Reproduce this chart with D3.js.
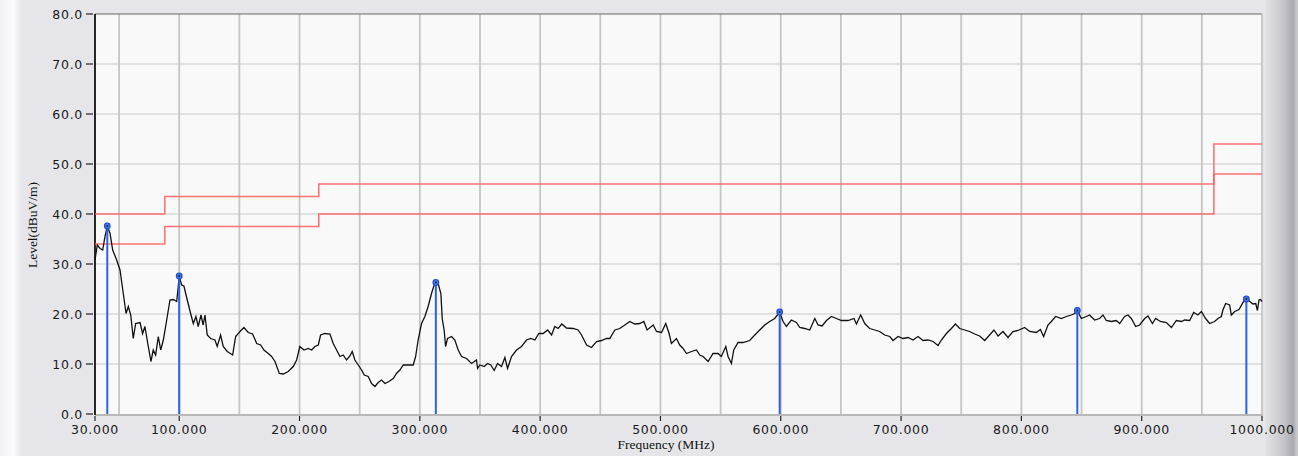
<!DOCTYPE html>
<html lang="en">
<head>
<meta charset="UTF-8">
<title>Level vs Frequency</title>
<script src="https://cdn.jsdelivr.net/npm/d3@7"></script>
<style>
    html, body { margin: 0; padding: 0; background: #e6e6ea; }
    svg { display: block; }
    .tick-label { font-family: "DejaVu Sans", sans-serif; font-size: 12.5px; fill: #1a1a1a; letter-spacing: 0.7px; }
    .axis-title { font-family: "Liberation Serif", serif; font-size: 13.5px; fill: #111; }
</style>
</head>
<body>
<div id="chart"></div>
<script>
    // measured trace: [frequency MHz, level dBuV/m]
    const trace = [
        [30, 30.8], [31.9, 33.8], [34.2, 33.1], [36.4, 32.8], [38.3, 35.5], [40.2, 37.6], [42.5, 36.1],
        [44.7, 32.8], [48, 30.8], [50.8, 28.8], [53.5, 24.1], [55.8, 20.1], [57.7, 21.5], [59.7, 19.8],
        [61.8, 15.1], [63.8, 18.1], [67.4, 18.3], [69.6, 16.1], [71.5, 17.5], [74.3, 13.5], [76.5, 10.5],
        [78.4, 12.8], [80.4, 11.8], [82.6, 15.5], [84.6, 12.8], [86.8, 14.8], [89.6, 18.8], [92.3, 22.8],
        [95.1, 22.9], [97.9, 22.5], [99.2, 25.5], [100, 27.6], [102, 25.8], [103.9, 25.6], [106.7, 22.8],
        [109.5, 20.1], [111.7, 18.1], [113.9, 19.5], [115.8, 17.5], [118.1, 19.8], [119.9, 17.8], [121.4, 19.8],
        [123.3, 15.8], [126.1, 15.1], [129.7, 14.8], [131.6, 13.5], [134.4, 15.8], [136.6, 13.5], [139.9, 12.5],
        [144.4, 11.8], [146.9, 15.5], [150.5, 16.5], [153.8, 17.3], [157.4, 16.3], [161, 16.0], [164.4, 14.1],
        [167.7, 13.8], [170.4, 12.8], [174, 12.1], [176.8, 11.5], [179.6, 10.5], [183.2, 8.1], [186.5, 8.0],
        [190.6, 8.5], [194.8, 9.5], [197.6, 10.8], [200.3, 13.5], [203.7, 12.8], [207.2, 13.1], [210.1, 12.8],
        [212.8, 13.5], [215.6, 13.8], [217.5, 15.8], [221.1, 16.1], [225.3, 16.0], [228, 14.1], [230.8, 12.8],
        [233.6, 11.5], [236.3, 11.8], [239.1, 10.8], [241.9, 11.6], [243.8, 12.5], [246, 10.8], [248.8, 9.8],
        [251.6, 8.8], [253.8, 7.8], [257.1, 7.5], [259.9, 6.1], [262.7, 5.5], [265.4, 6.3], [268.2, 6.8],
        [271, 6.1], [274.3, 6.5], [277.9, 7.1], [280.6, 8.1], [283.4, 8.8], [286.2, 9.8], [290.3, 9.8],
        [294.5, 9.8], [296.5, 11.5], [298.6, 14.8], [301.4, 18.1], [304.2, 19.5], [306.9, 21.5], [309.7, 24.1],
        [311.9, 25.8], [313.3, 26.3], [315.2, 26.1], [317.5, 24.1], [318.6, 19.1], [320.2, 16.8], [321.4, 13.5],
        [323, 15.1], [326.4, 15.5], [329.1, 14.8], [331.9, 12.8], [334.7, 11.5], [338.8, 11.1], [343, 10.1],
        [347.1, 10.8], [348, 9.1], [349.9, 9.8], [353.5, 9.5], [356.3, 10.1], [359, 9.8], [361.8, 8.7],
        [364.6, 10.1], [367.9, 9.5], [370.7, 11.3], [372.9, 9.1], [376.2, 11.5], [380.4, 12.8], [384.5, 13.5],
        [388.7, 14.8], [392.3, 15.1], [395.6, 14.8], [398.9, 16.1], [402.5, 16.1], [406.2, 16.8], [409.5, 15.8],
        [412.2, 17.5], [415, 17.1], [418, 18.0], [421.9, 17.2], [427.4, 17.1], [431.6, 16.8], [434.4, 15.8],
        [438.6, 13.8], [442.7, 13.3], [446.9, 14.5], [451, 14.7], [455.2, 15.1], [457.9, 15.1], [462.1, 16.8],
        [466.2, 17.1], [470.4, 17.8], [474.5, 18.5], [478.7, 18.0], [482.8, 18.1], [486.2, 18.5], [488.9, 16.8],
        [494, 17.8], [496.7, 16.5], [500.9, 16.3], [504.4, 18.1], [507.2, 16.1], [509.1, 14.1], [513.3, 15.1],
        [516, 13.8], [518.8, 13.1], [521.6, 12.1], [525.8, 12.5], [529.9, 12.8], [532.7, 11.8], [535.4, 11.5],
        [539.6, 10.5], [543.7, 12.1], [547.9, 12.1], [550.6, 11.5], [554.3, 13.5], [556.2, 11.5], [559, 10.1],
        [560.9, 12.8], [564.5, 14.3], [568.6, 14.3], [574.2, 14.7], [578.4, 15.8], [582.5, 16.8], [586.7, 17.8],
        [590.8, 18.5], [595, 19.1], [599.1, 20.4], [601.9, 18.5], [604.7, 17.5], [608.8, 18.8], [613, 18.3],
        [615.8, 17.3], [619.9, 17.1], [624.1, 16.8], [628.3, 19.1], [631, 17.8], [634.3, 17.6], [638, 18.7],
        [642.1, 19.5], [646.3, 19.1], [650.4, 18.7], [655.9, 18.7], [660.9, 19.1], [662.9, 18.0], [666.4, 19.8],
        [669.8, 18.1], [673.9, 17.1], [678.1, 16.8], [682.2, 16.5], [686.4, 15.8], [690.6, 15.5], [693.3, 14.7],
        [697.5, 15.5], [701.6, 15.1], [705.8, 15.3], [709.9, 14.8], [714.1, 15.5], [718.3, 14.7], [722.4, 14.8],
        [726.6, 14.5], [730.7, 13.7], [733.5, 14.8], [737.7, 16.1], [741.8, 17.1], [745.2, 18.0], [748.7, 17.1],
        [752.9, 16.8], [757, 16.5], [761.2, 16.0], [765.3, 15.6], [769.5, 14.7], [773.6, 15.8], [777.2, 16.8],
        [780.6, 15.6], [784.7, 16.5], [788.9, 15.3], [793, 16.5], [797.2, 16.7], [802.7, 17.3], [806.9, 16.5],
        [812.4, 16.3], [815.8, 16.9], [818.5, 15.5], [822.1, 17.8], [824.9, 18.5], [828.5, 19.5], [833.2, 19.1],
        [837.4, 19.5], [841.5, 19.8], [844.3, 20.1], [846.5, 20.7], [849.8, 19.1], [854, 19.5], [856.7, 19.8],
        [860.9, 18.8], [865, 19.1], [867.8, 19.8], [870.6, 18.7], [874.7, 18.5], [878.9, 18.7], [881.7, 18.1],
        [885.8, 19.5], [888.6, 19.8], [891.4, 19.1], [895, 17.5], [898.3, 17.8], [902.5, 19.1], [905.2, 19.6],
        [908.9, 18.1], [911.6, 19.1], [915.5, 18.5], [920.5, 18.3], [924.7, 17.3], [928.8, 18.7], [933, 18.5],
        [935.7, 18.8], [939.9, 18.7], [943.2, 20.3], [946.7, 19.8], [949.6, 20.5], [953.1, 19.1], [956.5, 18.1],
        [960.6, 18.5], [963.4, 19.1], [966.2, 19.5], [967.5, 20.8], [969.8, 22.1], [973.1, 21.8], [974.5, 19.8],
        [977.3, 20.5], [980.9, 20.9], [984.2, 22.3], [987, 23.0], [989.8, 22.5], [992.5, 22.0], [994.8, 22.1],
        [996.2, 20.7], [997.5, 22.8], [998.7, 22.9], [1000, 22.5]
    ];

    // limit lines (step functions): breakpoints in MHz and levels
    const limitFreqs = [30, 88, 216, 960, 1000];
    const limitUpper = [40, 43.5, 46, 54];
    const limitLower = [34, 37.5, 40, 48];

    // marked peaks
    const peakFreqs = [40.2, 100, 313.3, 599.1, 846.5, 987];
    const peakLevels = [37.6, 27.6, 26.3, 20.4, 20.7, 23.0];

    const xTicks = [30, 100, 200, 300, 400, 500, 600, 700, 800, 900, 1000];
    const xGrid = [50, 100, 150, 200, 250, 300, 350, 400, 450, 500, 550, 600, 650, 700, 750, 800, 850, 900, 950];
    const yTicks = [0, 10, 20, 30, 40, 50, 60, 70, 80];

    const W = 1298, H = 456;
    const plotL = 95, plotR = 1262, plotT = 14, plotB = 414;

    const x = d3.scaleLinear().domain([30, 1000]).range([plotL, plotR]);
    const y = d3.scaleLinear().domain([0, 80]).range([plotB, plotT]);

    const svg = d3.select("#chart").append("svg")
        .attr("width", W)
        .attr("height", H);

    const defs = svg.append("defs");
    const gl = defs.append("linearGradient").attr("id", "leftFade");
    gl.append("stop").attr("offset", "0%").attr("stop-color", "#f2f2f6");
    gl.append("stop").attr("offset", "60%").attr("stop-color", "#fbfbfd");
    gl.append("stop").attr("offset", "100%").attr("stop-color", "#e6e6ea");
    const gr = defs.append("linearGradient").attr("id", "rightBar");
    gr.append("stop").attr("offset", "0%").attr("stop-color", "#e2e2e6");
    gr.append("stop").attr("offset", "55%").attr("stop-color", "#c4c4ca");
    gr.append("stop").attr("offset", "85%").attr("stop-color", "#a9a9b0");
    gr.append("stop").attr("offset", "100%").attr("stop-color", "#d0d0d4");

    // background pieces
    svg.append("rect").attr("width", W).attr("height", H).attr("fill", "#e6e6ea");
    svg.append("rect").attr("x", 0).attr("y", 0).attr("width", 22).attr("height", H).attr("fill", "url(#leftFade)");
    svg.append("rect").attr("x", 1266).attr("y", 0).attr("width", W - 1266).attr("height", H).attr("fill", "url(#rightBar)");

    // plot area
    svg.append("rect")
        .attr("x", plotL).attr("y", plotT)
        .attr("width", plotR - plotL).attr("height", plotB - plotT)
        .attr("fill", "#f9f9f9");

    // grid
    svg.append("g").selectAll("line")
        .data(yTicks.filter(d => d > 0 && d < 80))
        .enter().append("line")
        .attr("x1", plotL).attr("x2", plotR)
        .attr("y1", d => y(d)).attr("y2", d => y(d))
        .attr("stroke", "#d8d8d8").attr("stroke-width", 1.6);

    svg.append("g").selectAll("line")
        .data(xGrid)
        .enter().append("line")
        .attr("x1", d => x(d)).attr("x2", d => x(d))
        .attr("y1", plotT).attr("y2", plotB)
        .attr("stroke", "#c6c6c6").attr("stroke-width", 1.8);

    // frame
    svg.append("line").attr("x1", plotL).attr("x2", plotR).attr("y1", plotT).attr("y2", plotT)
        .attr("stroke", "#666").attr("stroke-width", 1);
    svg.append("line").attr("x1", plotR).attr("x2", plotR).attr("y1", plotT).attr("y2", plotB)
        .attr("stroke", "#bdbdbd").attr("stroke-width", 1.5);
    svg.append("line").attr("x1", plotL).attr("x2", plotR + 1).attr("y1", plotB + 1).attr("y2", plotB + 1)
        .attr("stroke", "#8a8a8a").attr("stroke-width", 1.2);
    svg.append("line").attr("x1", plotL).attr("x2", plotL).attr("y1", plotT).attr("y2", plotB + 1)
        .attr("stroke", "#111").attr("stroke-width", 1.8);

    // y ticks + labels
    const yt = svg.append("g").selectAll("g")
        .data(yTicks)
        .enter().append("g");
    yt.append("line")
        .attr("x1", plotL - 9).attr("x2", plotL - 2)
        .attr("y1", d => y(d)).attr("y2", d => y(d))
        .attr("stroke", "#222").attr("stroke-width", 1.2);
    yt.append("text")
        .attr("class", "tick-label")
        .attr("x", plotL - 12)
        .attr("y", d => y(d))
        .attr("dy", "0.36em")
        .attr("text-anchor", "end")
        .text(d => d.toFixed(1));

    // x ticks + labels
    const xt = svg.append("g").selectAll("g")
        .data(xTicks)
        .enter().append("g");
    xt.append("line")
        .attr("x1", d => x(d)).attr("x2", d => x(d))
        .attr("y1", plotB + 2).attr("y2", plotB + 7)
        .attr("stroke", "#222").attr("stroke-width", 1.2);
    xt.append("text")
        .attr("class", "tick-label")
        .attr("x", d => x(d))
        .attr("y", plotB + 20)
        .attr("text-anchor", "middle")
        .text(d => d.toFixed(3));

    // axis titles
    svg.append("text")
        .attr("class", "axis-title")
        .attr("x", 666).attr("y", 449)
        .attr("text-anchor", "middle")
        .text("Frequency (MHz)");
    svg.append("text")
        .attr("class", "axis-title")
        .attr("transform", "translate(37,225) rotate(-90)")
        .attr("text-anchor", "middle")
        .text("Level(dBuV/m)");

    // limit lines
    const stepData = levels => levels.map((v, i) => [[limitFreqs[i], v], [limitFreqs[i + 1], v]]).flat();
    const line = d3.line().x(d => x(d[0])).y(d => y(d[1]));
    [limitUpper, limitLower].forEach(levels => {
        svg.append("path")
            .datum(stepData(levels))
            .attr("fill", "none")
            .attr("stroke", "#ff5c5c")
            .attr("stroke-opacity", 0.85)
            .attr("stroke-width", 1.6)
            .attr("d", line);
    });

    // trace
    svg.append("path")
        .datum(trace)
        .attr("fill", "none")
        .attr("stroke", "#111")
        .attr("stroke-width", 1.3)
        .attr("stroke-linejoin", "miter")
        .attr("d", line);

    // peak markers
    const peaks = peakFreqs.map((f, i) => ({ f: f, v: peakLevels[i] }));
    svg.append("g").selectAll("line")
        .data(peaks)
        .enter().append("line")
        .attr("x1", d => x(d.f)).attr("x2", d => x(d.f))
        .attr("y1", d => y(d.v)).attr("y2", plotB)
        .attr("stroke", "#2a62e6").attr("stroke-width", 2);
    svg.append("g").selectAll("circle")
        .data(peaks)
        .enter().append("circle")
        .attr("cx", d => x(d.f)).attr("cy", d => y(d.v))
        .attr("r", 2.8)
        .attr("fill", "#4a7cf0")
        .attr("stroke", "#1d4fd0")
        .attr("stroke-width", 1.2);
    svg.append("g").selectAll("circle")
        .data(peaks)
        .enter().append("circle")
        .attr("cx", d => x(d.f)).attr("cy", d => y(d.v))
        .attr("r", 0.9)
        .attr("fill", "#111");
</script>
</body>
</html>
